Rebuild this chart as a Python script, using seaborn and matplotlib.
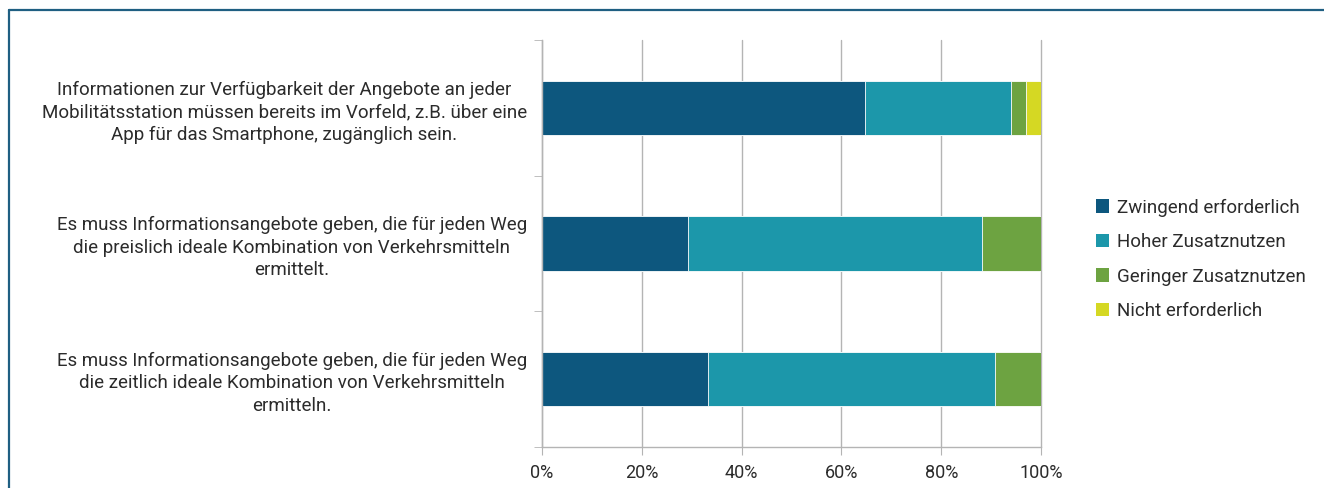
import matplotlib
matplotlib.use("Agg")
import matplotlib.pyplot as plt
import seaborn as sns
import numpy as np
from matplotlib.patches import Patch
from matplotlib.lines import Line2D

# data (shares in %)
categories = [
    "Informationen zur Verfügbarkeit der Angebote an jeder\nMobilitätsstation müssen bereits im Vorfeld, z.B. über eine\nApp für das Smartphone, zugänglich sein.",
    "Es muss Informationsangebote geben, die für jeden Weg\ndie preislich ideale Kombination von Verkehrsmitteln\nermittelt.",
    "Es muss Informationsangebote geben, die für jeden Weg\ndie zeitlich ideale Kombination von Verkehrsmitteln\nermitteln.",
]
series_names = ["Zwingend erforderlich", "Hoher Zusatznutzen", "Geringer Zusatznutzen", "Nicht erforderlich"]
zwingend = [64.7, 29.3, 33.3]
hoher = [29.3, 58.9, 57.5]
geringer = [3.0, 11.8, 9.2]
nicht = [3.0, 0.0, 0.0]
colors = ["#0d577e", "#1c97aa", "#6da341", "#d5d823"]
x_ticks = [0, 20, 40, 60, 80, 100]

sns.set_style("white")
plt.rcParams["font.family"] = ["Roboto", "DejaVu Sans"]
text_color = "#2b2b2b"

fig = plt.figure(figsize=(13.24, 4.88), dpi=100)
ax = fig.add_axes([0.4094, 0.084, 0.3769, 0.834])

# stacked bars: draw cumulative totals from the back to the front
stack = np.array([zwingend, hoher, geringer, nicht])
cum = np.cumsum(stack, axis=0)
for i in range(3, -1, -1):
    sns.barplot(x=cum[i], y=categories, color=colors[i], orient="h", width=0.4,
                edgecolor="white", linewidth=0.6, ax=ax, saturation=1)

ax.set_xlim(0, 100)
ax.set_ylim(2.5, -0.5)
ax.set_xticks(x_ticks)
ax.set_xticklabels([f"{t}%" for t in x_ticks], fontsize=13, color=text_color)
ax.set_xlabel("")
ax.set_ylabel("")
ax.grid(axis="x", color="#b4b4b4", linewidth=1)
for gl in ax.get_xgridlines():
    gl.set_clip_on(False)
ax.set_axisbelow(True)

for s in ["top", "right"]:
    ax.spines[s].set_visible(False)
for s in ["left", "bottom"]:
    ax.spines[s].set_color("#b4b4b4")
    ax.spines[s].set_linewidth(1)

ax.tick_params(axis="x", length=6, color="#b4b4b4", pad=6, direction="out", bottom=True)
ax.tick_params(axis="y", which="major", length=0, pad=11)
ax.set_yticks([-0.5, 0.5, 1.5, 2.5], minor=True)
ax.tick_params(axis="y", which="minor", length=6, color="#b4b4b4", direction="out", left=True)
for lab in ax.get_yticklabels():
    lab.set_multialignment("center")
    lab.set_fontsize(13.5)
    lab.set_color(text_color)
    lab.set_linespacing(1.32)

handles = [Patch(facecolor=c, edgecolor="none") for c in colors]
fig.legend(handles, series_names, loc="upper left", bbox_to_anchor=(0.815, 0.628),
           frameon=False, fontsize=13.5, handlelength=0.7, handleheight=0.7,
           handletextpad=0.4, labelspacing=0.88, labelcolor=text_color)

# frame around the figure (left and top edges visible)
fig.add_artist(Line2D([0.0065, 0.0065], [0.0, 0.9795], color="#1f5f82", linewidth=1.6))
fig.add_artist(Line2D([0.0065, 1.0], [0.9795, 0.9795], color="#1f5f82", linewidth=1.6))

fig.savefig("out.png", dpi=100)
